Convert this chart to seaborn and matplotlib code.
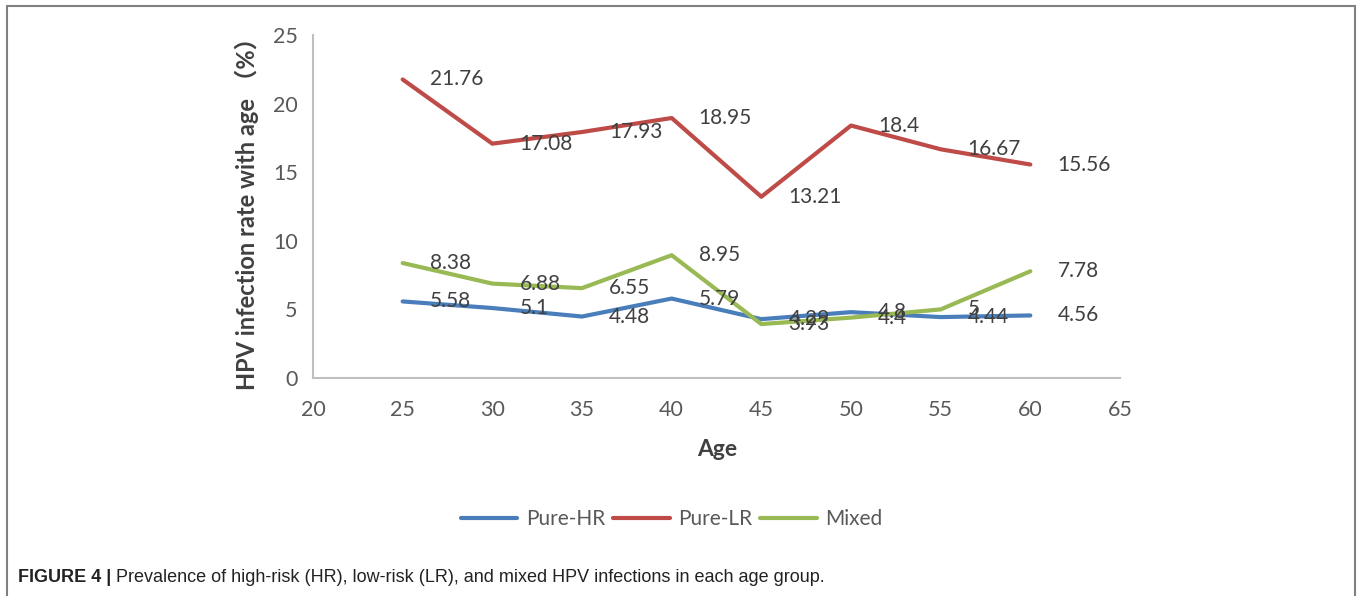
import numpy as np
import pandas as pd
import matplotlib.pyplot as plt
import seaborn as sns
from matplotlib.lines import Line2D

# data
ages = [25, 30, 35, 40, 45, 50, 55, 60]
pure_hr = [5.58, 5.1, 4.48, 5.79, 4.29, 4.8, 4.44, 4.56]
pure_lr = [21.76, 17.08, 17.93, 18.95, 13.21, 18.4, 16.67, 15.56]
mixed = [8.38, 6.88, 6.55, 8.95, 3.93, 4.4, 5, 7.78]
series_names = ['Pure-HR', 'Pure-LR', 'Mixed']
colors = ['#4a7ebb', '#be4b48', '#98b954']

sns.set_style('white')
plt.rcParams['font.family'] = ['Lato', 'Noto Sans CJK SC', 'DejaVu Sans']

df = pd.DataFrame({
    'Age': ages * 3,
    'Rate': pure_hr + pure_lr + mixed,
    'Series': np.repeat(series_names, len(ages)),
})

W, H = 1357, 596
fig = plt.figure(figsize=(W / 100, H / 100), dpi=100)
ax = fig.add_axes([313 / W, 1 - 378 / H, (1120 - 313) / W, (378 - 35) / H])

sns.lineplot(data=df, x='Age', y='Rate', hue='Series', hue_order=series_names,
             palette=colors, linewidth=3, ax=ax, legend=False)

# data labels to the right of each point
for vals in [pure_hr, pure_lr, mixed]:
    for a, v in zip(ages, vals):
        ax.annotate(f'{v:g}', (a, v), xytext=(19.5, 0), textcoords='offset points',
                    ha='left', va='center', fontsize=15, color='#404040')

ax.set_xlim(20, 65)
ax.set_ylim(0, 25)
ax.set_xticks(range(20, 66, 5))
ax.set_yticks(range(0, 26, 5))
ax.set_xlabel('')
ax.set_ylabel('')
ax.tick_params(axis='both', length=0, labelsize=15.5, labelcolor='#595959')
ax.tick_params(axis='x', pad=16)
ax.tick_params(axis='y', pad=11)
sns.despine(ax=ax)
for s in ['left', 'bottom']:
    ax.spines[s].set_color('#bfbfbf')
    ax.spines[s].set_linewidth(1.5)

fig.text(717 / W, 1 - 449 / H, 'Age', ha='center', va='center',
         fontsize=16.5, fontweight='bold', color='#404040')
fig.text(247 / W, 1 - 208 / H, 'HPV infection rate with age （%）', rotation=90,
         ha='center', va='center', fontsize=17, fontweight='bold', color='#404040')

handles = [Line2D([0], [0], color=c, lw=3) for c in colors]
fig.legend(handles, series_names, loc='center', bbox_to_anchor=(0.495, 1 - 519 / H),
           ncol=3, frameon=False, fontsize=15, handlelength=2.7, handletextpad=0.4,
           columnspacing=0.4, labelcolor='#595959')

# caption
cap_font = ['Liberation Sans Narrow', 'Liberation Sans', 'DejaVu Sans']
t1 = fig.text(18 / W, 1 - 577 / H, 'FIGURE 4 |', family=cap_font, fontweight='bold',
              fontsize=13, va='center', color='#222222')
r = fig.canvas.get_renderer()
bb = t1.get_window_extent(renderer=r)
fig.text((bb.x1 + 5) / W, 1 - 577 / H,
         'Prevalence of high-risk (HR), low-risk (LR), and mixed HPV infections in each age group.',
         family=cap_font, fontsize=13, va='center', color='#222222')

# frame around the figure panel
fc = '#808080'
fig.add_artist(Line2D([7 / W, 7 / W], [0, 1 - 6 / H], transform=fig.transFigure, color=fc, lw=1.5))
fig.add_artist(Line2D([7 / W, 1355 / W], [1 - 6 / H, 1 - 6 / H], transform=fig.transFigure, color=fc, lw=1.5))
fig.add_artist(Line2D([1355 / W, 1355 / W], [0, 1 - 6 / H], transform=fig.transFigure, color=fc, lw=1.5))

fig.savefig('out.png', dpi=100)
